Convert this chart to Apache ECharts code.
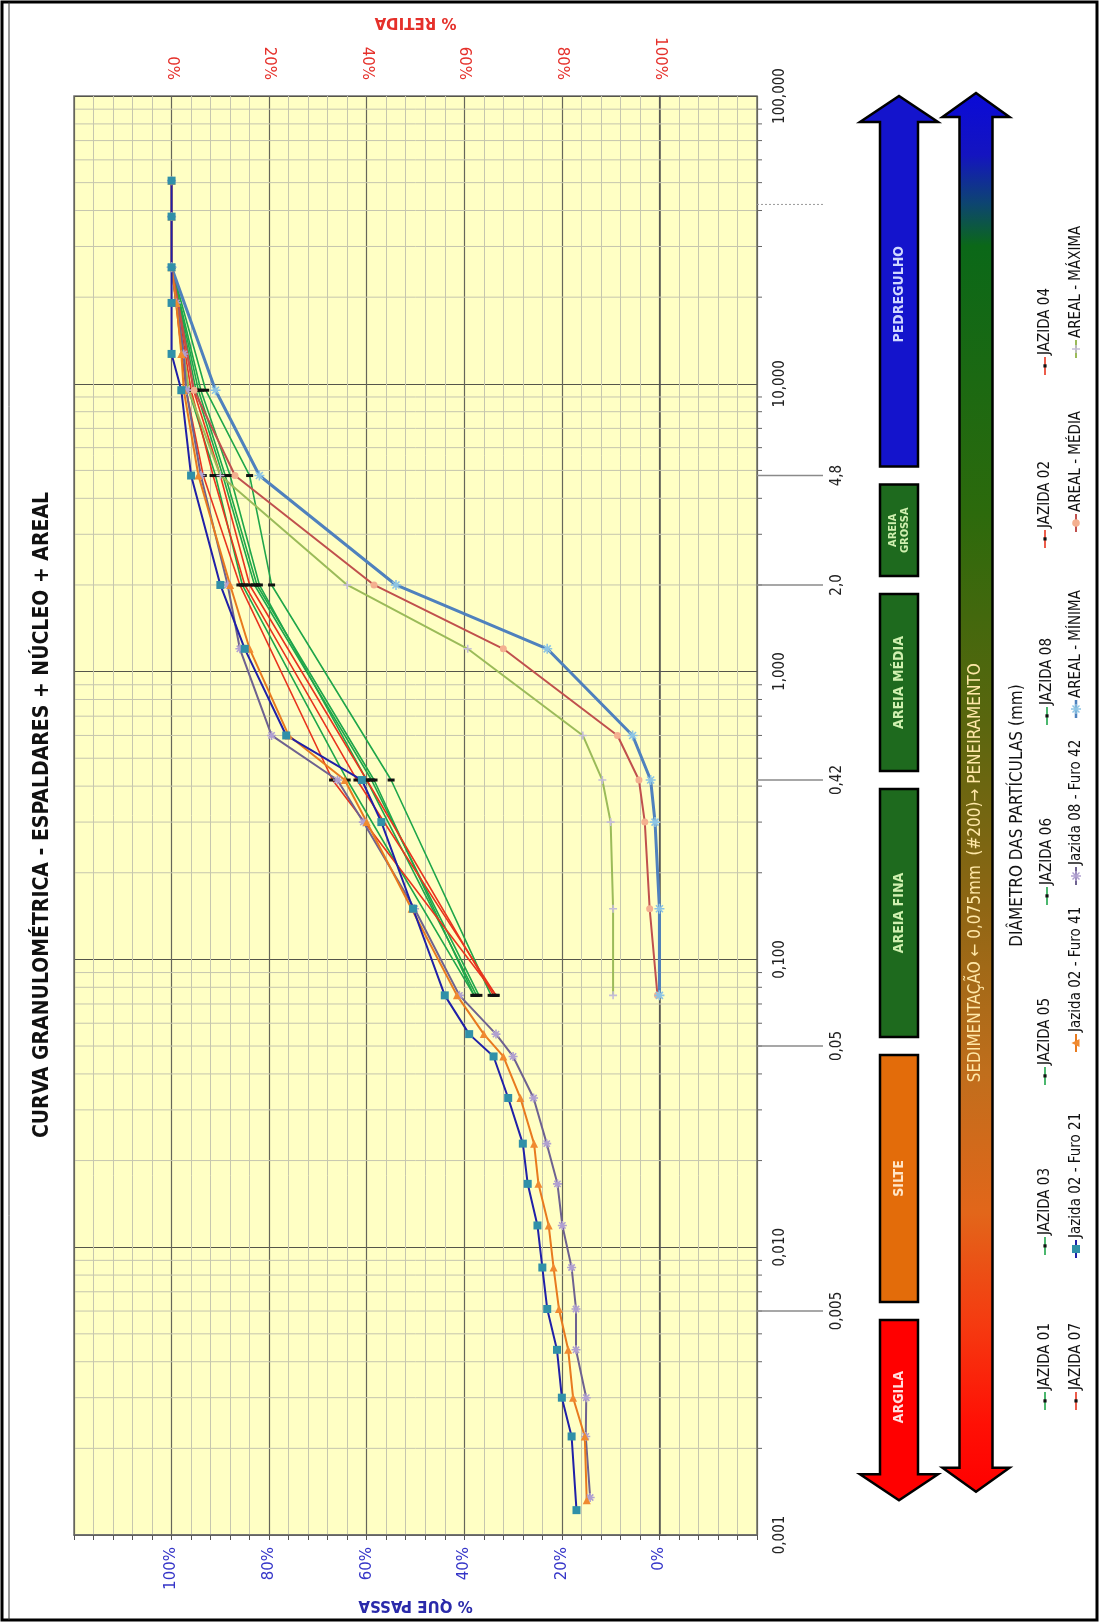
<!DOCTYPE html>
<html>
<head>
<meta charset="utf-8">
<script src="https://cdn.jsdelivr.net/npm/echarts@6/dist/echarts.min.js"></script>
<style>
html,body{margin:0;padding:0;background:#ffffff;}
#chart{width:1100px;height:1623px;}
</style>
</head>
<body>
<div id="chart"></div>
<script>
// ---------------- DATA ----------------
const passTickLabels = {0:'0%',20:'20%',40:'40%',60:'60%',80:'80%',100:'100%'};
const decadeLabels = ['0,001','0,010','0,100','1,000','10,000','100,000'];
const specialTickValues = [0.006, 0.05, 0.42, 2.0, 4.8];
const specialTickLabels = ['0,005', '0,05', '0,42', '2,0', '4,8'];
const dottedTickValues = [42];

const soilClasses = ['ARGILA', 'SILTE', 'AREIA FINA', 'AREIA MÉDIA', 'AREIA\nGROSSA', 'PEDREGULHO'];
const soilFrom = [0.00132, 0.006, 0.05, 0.42, 2.0, 4.8];
const soilTo = [0.006, 0.05, 0.42, 2.0, 4.8, 100];
const sieveArrowFrom = 0.00138;
const sieveArrowTo = 100;
const sieveArrowText = 'SEDIMENTAÇÃO ← 0,075mm  (#200)→ PENEIRAMENTO';
const sieveArrowTextAt = 0.2;

const jazidaDiam = [25.4, 9.5, 4.8, 2.0, 0.42, 0.075];
const jazida01 = [100, 96.5, 91.0, 85.5, 64.0, 38.0];
const jazida03 = [100, 95.0, 89.5, 83.0, 59.0, 37.0];
const jazida05 = [100, 94.5, 89.0, 82.5, 58.5, 38.0];
const jazida06 = [100, 93.0, 84.0, 79.5, 55.0, 34.5];
const jazida08 = [100, 94.0, 88.0, 82.0, 60.0, 37.5];
const jazida02 = [100, 96.0, 91.5, 85.0, 62.0, 33.5];
const jazida04 = [100, 95.5, 90.0, 84.0, 60.0, 34.0];
const jazida07 = [100, 97.0, 93.5, 86.0, 67.0, 33.5];

const furo21Diam = [50.8, 38.1, 25.4, 19.1, 12.7, 9.5, 4.8, 2.0, 1.2, 0.6, 0.42, 0.3, 0.15, 0.075, 0.055, 0.046, 0.033, 0.0229, 0.0166, 0.0119, 0.0085, 0.0061, 0.0044, 0.0030, 0.0022, 0.00122];
const furo21 = [100, 100, 100, 100, 100, 98.0, 96.0, 90.0, 85.0, 76.5, 61.0, 57.0, 50.5, 44.0, 39.0, 34.0, 31.0, 28.0, 27.0, 25.0, 24.0, 23.0, 21.0, 20.0, 18.0, 17.0];
const furo41Diam = [50.8, 38.1, 25.4, 19.1, 12.7, 9.5, 4.8, 2.0, 1.2, 0.6, 0.42, 0.3, 0.15, 0.075, 0.055, 0.046, 0.033, 0.0229, 0.0166, 0.0119, 0.0085, 0.0061, 0.0044, 0.0030, 0.0022, 0.00132];
const furo41 = [100, 100, 100, 99.0, 98.0, 97.5, 94.5, 88.0, 84.0, 76.0, 64.5, 60.0, 50.8, 41.5, 36.0, 32.0, 28.5, 25.7, 24.8, 22.7, 21.7, 20.6, 18.7, 17.7, 15.3, 14.9];
const furo42Diam = [50.8, 38.1, 25.4, 19.1, 12.7, 9.5, 4.8, 2.0, 1.2, 0.6, 0.42, 0.3, 0.15, 0.075, 0.055, 0.046, 0.033, 0.0229, 0.0166, 0.0119, 0.0085, 0.0061, 0.0044, 0.0030, 0.0022, 0.00135];
const furo42 = [100, 100, 100, 99.0, 97.5, 97.0, 94.0, 88.5, 86.0, 79.5, 66.0, 60.7, 50.2, 41.0, 33.5, 30.0, 25.8, 23.1, 20.9, 19.9, 18.0, 17.1, 17.1, 15.0, 15.1, 14.2];

const arealDiam = [25.4, 9.5, 4.8, 2.0, 1.2, 0.6, 0.42, 0.3, 0.15, 0.075];
const arealMin = [100, 91.0, 82.0, 54.0, 23.0, 5.5, 1.8, 0.9, 0.0, 0.0];
const arealMed = [100, 95.4, 87.0, 58.5, 32.0, 8.6, 4.2, 3.0, 2.0, 0.4];
const arealMax = [100, 96.5, 90.0, 64.0, 39.3, 15.7, 11.7, 10.0, 9.5, 9.5];

// ---------------- STYLES ----------------
const COND = '"DejaVu Sans Condensed", "Liberation Sans Narrow", "DejaVu Sans", sans-serif';
const GREEN = '#1FA64A', RED = '#E8341E';
const P_AST = 'path://M5,0L5,10M0,5L10,5M1.5,1.5L8.5,8.5M8.5,1.5L1.5,8.5';
const P_PLUS = 'path://M5,0L5,10M0,5L10,5';

const seriesDefs = [
  {name:'JAZIDA 01', diam:jazidaDiam, vals:jazida01, line:GREEN, w:1.6, sym:'rect', size:[7,3], mc:'#111', kind:'dash'},
  {name:'JAZIDA 03', diam:jazidaDiam, vals:jazida03, line:GREEN, w:1.6, sym:'rect', size:[7,3], mc:'#111', kind:'dash'},
  {name:'JAZIDA 05', diam:jazidaDiam, vals:jazida05, line:GREEN, w:1.6, sym:'rect', size:[7,3], mc:'#111', kind:'dash'},
  {name:'JAZIDA 06', diam:jazidaDiam, vals:jazida06, line:GREEN, w:1.6, sym:'rect', size:[7,3], mc:'#111', kind:'dash'},
  {name:'JAZIDA 08', diam:jazidaDiam, vals:jazida08, line:GREEN, w:1.6, sym:'rect', size:[7,3], mc:'#111', kind:'dash'},
  {name:'JAZIDA 02', diam:jazidaDiam, vals:jazida02, line:RED, w:1.6, sym:'rect', size:[7,3], mc:'#111', kind:'dash'},
  {name:'JAZIDA 04', diam:jazidaDiam, vals:jazida04, line:RED, w:1.6, sym:'rect', size:[7,3], mc:'#111', kind:'dash'},
  {name:'JAZIDA 07', diam:jazidaDiam, vals:jazida07, line:RED, w:1.6, sym:'rect', size:[7,3], mc:'#111', kind:'dash'},
  {name:'AREAL - MÁXIMA', diam:arealDiam, vals:arealMax, line:'#9BBB59', w:2, sym:P_PLUS, size:8, mc:'#C4BCD8', kind:'plus'},
  {name:'AREAL - MÉDIA', diam:arealDiam, vals:arealMed, line:'#C0504D', w:2, sym:'circle', size:7, mc:'#F4B090', kind:'circle'},
  {name:'AREAL - MÍNIMA', diam:arealDiam, vals:arealMin, line:'#4F81BD', w:3, sym:P_AST, size:10, mc:'#8CC4E4', kind:'ast'},
  {name:'Jazida 08 - Furo 42', diam:furo42Diam, vals:furo42, line:'#6E6290', w:2, sym:P_AST, size:9, mc:'#B0A0D0', kind:'ast'},
  {name:'Jazida 02 - Furo 41', diam:furo41Diam, vals:furo41, line:'#E87A1E', w:2, sym:'triangle', size:8, mc:'#F08A30', kind:'tri'},
  {name:'Jazida 02 - Furo 21', diam:furo21Diam, vals:furo21, line:'#2020A8', w:2, sym:'rect', size:8, mc:'#3090A8', kind:'square'}
];

const legendLayout = [
  ['JAZIDA 01',1045,1410],['JAZIDA 03',1045,1255],['JAZIDA 05',1045,1085],['JAZIDA 06',1047,905],
  ['JAZIDA 08',1047,725],['JAZIDA 02',1045,548],['JAZIDA 04',1045,375],
  ['JAZIDA 07',1076,1410],['Jazida 02 - Furo 21',1076,1258],['Jazida 02 - Furo 41',1076,1052],
  ['Jazida 08 - Furo 42',1076,885],['AREAL - MÍNIMA',1076,718],['AREAL - MÉDIA',1076,532],['AREAL - MÁXIMA',1076,358]
];

function passFmt(v){ return passTickLabels[v] !== undefined ? passTickLabels[v] : ''; }
function retFmt(v){ return passTickLabels[v] !== undefined ? passTickLabels[v] : ''; }

// minor log grid values (grid decoration only)
const minorLogVals = [];
for (let e = -3; e <= 1; e++) for (let m = 2; m <= 9; m++) minorLogVals.push(m * Math.pow(10, e));

function legendMarker(d){
  const c = d.mc;
  switch(d.kind){
    case 'dash': return {type:'rect', shape:{x:7.5,y:-1.6,width:3.2,height:3.2}, style:{fill:'#111'}};
    case 'square': return {type:'rect', shape:{x:5,y:-4,width:8,height:8}, style:{fill:c}};
    case 'circle': return {type:'circle', shape:{cx:9,cy:0,r:3.8}, style:{fill:c}};
    case 'tri': return {type:'polygon', shape:{points:[[9,-4.5],[13,3.5],[5,3.5]]}, style:{fill:c}};
    case 'plus': return {type:'group', children:[
      {type:'line', shape:{x1:9,y1:-4,x2:9,y2:4}, style:{stroke:c,lineWidth:1.5}},
      {type:'line', shape:{x1:5,y1:0,x2:13,y2:0}, style:{stroke:c,lineWidth:1.5}}]};
    case 'ast': return {type:'group', children:[
      {type:'line', shape:{x1:9,y1:-5,x2:9,y2:5}, style:{stroke:c,lineWidth:1.5}},
      {type:'line', shape:{x1:4,y1:0,x2:14,y2:0}, style:{stroke:c,lineWidth:1.5}},
      {type:'line', shape:{x1:5.5,y1:-3.5,x2:12.5,y2:3.5}, style:{stroke:c,lineWidth:1.5}},
      {type:'line', shape:{x1:12.5,y1:-3.5,x2:5.5,y2:3.5}, style:{stroke:c,lineWidth:1.5}}]};
  }
}

const graphics = [
  {type:'rect', shape:{x:2,y:2,width:1095,height:1618}, style:{fill:'none', stroke:'#000', lineWidth:3}, silent:true},
  {type:'line', shape:{x1:9,y1:2,x2:9,y2:1620}, style:{stroke:'#333', lineWidth:1}, silent:true},
  {type:'text', x:43, y:815, rotation:Math.PI/2, silent:true,
   style:{text:'CURVA GRANULOMÉTRICA - ESPALDARES + NÚCLEO + AREAL', fill:'#111', fontSize:21, fontWeight:'bold', fontFamily:COND, align:'center', verticalAlign:'middle'}}
];
legendLayout.forEach(([nm, x, y]) => {
  const d = seriesDefs.find(s => s.name === nm);
  graphics.push({type:'group', x:x, y:y, rotation:Math.PI/2, silent:true, children:[
    {type:'line', shape:{x1:0,y1:0,x2:18,y2:0}, style:{stroke:d.line, lineWidth:Math.min(d.w,2.5)}},
    legendMarker(d),
    {type:'text', x:20, y:0, style:{text:nm, fill:'#111', fontSize:15, fontFamily:COND, align:'left', verticalAlign:'middle'}}
  ]});
});

const soilFill = ['#FF0000', '#E36C0A', '#1E6A1E', '#1E6A1E', '#1E6A1E', '#1414CC'];
const soilText = ['#FFE0E0', '#FFE6C8', '#D0F0B0', '#D0F0B0', '#D0F0B0', '#D0D8FF'];

const lineSeries = seriesDefs.map(d => ({
  type:'line', name:d.name, xAxisIndex:0, yAxisIndex:0,
  data: d.diam.map((dm, i) => [d.vals[i], dm]),
  symbol:d.sym, symbolSize:d.size, showAllSymbol:true,
  lineStyle:{color:d.line, width:d.w},
  itemStyle:{color:d.mc, borderColor:d.mc, borderWidth:(d.kind==='ast'||d.kind==='plus')?1.6:0},
  z:3, silent:true, animation:false
}));

const option = {
  animation:false,
  backgroundColor:'#ffffff',
  grid:[{left:74, top:96, width:683, height:1439, show:true, backgroundColor:'#FFFFC4', borderColor:'#707070', borderWidth:1.5}],
  xAxis:[
    {type:'value', gridIndex:0, min:-20, max:120, interval:20, inverse:true, position:'bottom',
     axisLine:{show:true, onZero:false, lineStyle:{color:'#6A6A6A', width:1.5}},
     axisTick:{show:true, length:5, lineStyle:{color:'#555'}},
     minorTick:{show:true, splitNumber:5, length:5, lineStyle:{color:'#555'}},
     splitLine:{show:true, lineStyle:{color:'#66665A', width:1.2}},
     minorSplitLine:{show:true, lineStyle:{color:'#C6C6AE', width:1}},
     axisLabel:{rotate:90, margin:12, color:'#3535C8', fontSize:15, fontFamily:'DejaVu Sans', formatter:passFmt},
     name:'% QUE PASSA', nameLocation:'middle', nameGap:60, nameRotate:180,
     nameTextStyle:{color:'#2A2AAA', fontSize:15, fontWeight:'bold', fontFamily:'DejaVu Sans'}},
    {type:'value', gridIndex:0, min:-20, max:120, interval:20, position:'top',
     axisLine:{show:false}, axisTick:{show:false}, splitLine:{show:false},
     axisLabel:{rotate:90, margin:16, color:'#E5302A', fontSize:15, fontFamily:'DejaVu Sans', formatter:retFmt},
     name:'% RETIDA', nameLocation:'middle', nameGap:64, nameRotate:180,
     nameTextStyle:{color:'#E5302A', fontSize:15, fontWeight:'bold', fontFamily:'DejaVu Sans'}}
  ],
  yAxis:[
    {type:'log', logBase:10, gridIndex:0, min:0.001, max:100, splitNumber:5, position:'right',
     axisLine:{show:true, lineStyle:{color:'#555', width:1.5}},
     axisTick:{show:true, length:7, lineStyle:{color:'#555'}},
     splitLine:{show:true, lineStyle:{color:'#55554A', width:1.2}},
     axisLabel:{rotate:90, margin:16, color:'#222', fontSize:15, fontFamily:COND,
       formatter:v => { const k = Math.round(Math.log10(v)) + 3; return decadeLabels[k] || ''; }},
     name:'DIÂMETRO DAS PARTÍCULAS (mm)', nameLocation:'middle', nameGap:252, nameRotate:90,
     nameTextStyle:{color:'#111', fontSize:17, fontFamily:COND}}
  ],
  graphic:graphics,
  series:[
    {type:'custom', name:'grade', xAxisIndex:0, yAxisIndex:0, clip:false, z:1, silent:true,
     data:minorLogVals.map(v => [0, v]), encode:{x:0, y:1},
     renderItem:(params, api) => {
       const y = api.coord([0, api.value(1)])[1];
       const cs = params.coordSys, xl = cs.x, xr = cs.x + cs.width;
       return {type:'group', children:[
         {type:'line', shape:{x1:xl+1, y1:y, x2:xr-1, y2:y}, style:{stroke:'#C6C6AE', lineWidth:1}},
         {type:'line', shape:{x1:xr, y1:y, x2:xr+5, y2:y}, style:{stroke:'#666', lineWidth:1}}
       ]};
     }},
    {type:'custom', name:'marcos', xAxisIndex:0, yAxisIndex:0, clip:false, z:1, silent:true,
     data:specialTickValues.map((v,i) => [0, v, i]), encode:{x:0, y:1},
     renderItem:(params, api) => {
       const y = api.coord([0, api.value(1)])[1];
       const cs = params.coordSys, xr = cs.x + cs.width;
       return {type:'group', children:[
         {type:'line', shape:{x1:xr, y1:y, x2:xr+66, y2:y}, style:{stroke:'#8A8A8A', lineWidth:1.5}},
         {type:'text', x:xr+80, y:y, rotation:Math.PI/2,
          style:{text:specialTickLabels[api.value(2)], fill:'#222', fontSize:15, fontFamily:COND, align:'center', verticalAlign:'middle'}}
       ]};
     }},
    {type:'custom', name:'pontilhado', xAxisIndex:0, yAxisIndex:0, clip:false, z:1, silent:true,
     data:dottedTickValues.map(v => [0, v]), encode:{x:0, y:1},
     renderItem:(params, api) => {
       const y = api.coord([0, api.value(1)])[1];
       const cs = params.coordSys, xr = cs.x + cs.width;
       return {type:'line', shape:{x1:xr, y1:y, x2:xr+66, y2:y}, style:{stroke:'#9A9A9A', lineWidth:1, lineDash:[2,2]}};
     }},
    {type:'custom', name:'classes', xAxisIndex:0, yAxisIndex:0, clip:false, z:2, silent:true,
     data:soilClasses.map((n,i) => [0, soilFrom[i], soilTo[i], i]), encode:{x:0, y:1},
     renderItem:(params, api) => {
       const i = api.value(3);
       const cs = params.coordSys, xr = cs.x + cs.width;
       const cx = xr + 142, bw = 19, hw = 39, hl = 26, gap = 9;
       const yLo = api.coord([0, api.value(1)])[1];
       const yHi = api.coord([0, api.value(2)])[1];
       let pts, t0, t1;
       if (i === 0) {
         const top = yHi + gap, base = yLo - hl;
         pts = [[cx-bw,top],[cx+bw,top],[cx+bw,base],[cx+hw,base],[cx,yLo],[cx-hw,base],[cx-bw,base]];
         t0 = top; t1 = base;
       } else if (i === soilClasses.length - 1) {
         const bot = yLo - gap, base = yHi + hl;
         pts = [[cx-bw,bot],[cx-bw,base],[cx-hw,base],[cx,yHi],[cx+hw,base],[cx+bw,base],[cx+bw,bot]];
         t0 = base; t1 = bot;
       } else {
         const top = yHi + gap, bot = yLo - gap;
         pts = [[cx-bw,top],[cx+bw,top],[cx+bw,bot],[cx-bw,bot]];
         t0 = top; t1 = bot;
       }
       const small = soilClasses[i].indexOf('\n') >= 0;
       return {type:'group', children:[
         {type:'polygon', shape:{points:pts}, style:{fill:soilFill[i], stroke:'#000', lineWidth:2.5, lineJoin:'miter'}},
         {type:'text', x:cx, y:(t0+t1)/2, rotation:Math.PI/2,
          style:{text:soilClasses[i], fill:soilText[i], fontSize:small?11:14, lineHeight:small?12:16, fontWeight:'bold', fontFamily:COND, align:'center', verticalAlign:'middle'}}
       ]};
     }},
    {type:'custom', name:'peneiramento', xAxisIndex:0, yAxisIndex:0, clip:false, z:2, silent:true,
     data:[[0, sieveArrowFrom, sieveArrowTo, sieveArrowTextAt]], encode:{x:0, y:1},
     renderItem:(params, api) => {
       const cs = params.coordSys, xr = cs.x + cs.width;
       const cx = xr + 219, bw = 16.5, hw = 33.5, hl = 24;
       const yLo = api.coord([0, api.value(1)])[1] - 3;
       const yHi = api.coord([0, api.value(2)])[1] - 3;
       const yt = api.coord([0, api.value(3)])[1];
       const pts = [[cx,yHi],[cx+hw,yHi+hl],[cx+bw,yHi+hl],[cx+bw,yLo-hl],[cx+hw,yLo-hl],[cx,yLo],[cx-hw,yLo-hl],[cx-bw,yLo-hl],[cx-bw,yHi+hl],[cx-hw,yHi+hl]];
       const grad = new echarts.graphic.LinearGradient(0,0,0,1,[
         {offset:0,color:'#0A0AD8'},{offset:0.045,color:'#1414C0'},{offset:0.08,color:'#0D4570'},
         {offset:0.11,color:'#0B6818'},{offset:0.3,color:'#2C6A0C'},{offset:0.45,color:'#5A660E'},
         {offset:0.58,color:'#8E6614'},{offset:0.7,color:'#C06E1C'},{offset:0.8,color:'#E2661A'},
         {offset:0.88,color:'#F53A10'},{offset:0.95,color:'#FF1005'},{offset:1,color:'#FF0000'}]);
       return {type:'group', children:[
         {type:'polygon', shape:{points:pts}, style:{fill:grad, stroke:'#000', lineWidth:2.5, lineJoin:'miter'}},
         {type:'text', x:cx, y:yt, rotation:Math.PI/2,
          style:{text:sieveArrowText, fill:'#FFE8A8', fontSize:17, fontFamily:COND, align:'center', verticalAlign:'middle'}}
       ]};
     }}
  ].concat(lineSeries)
};

const chart = echarts.init(document.getElementById('chart'), null, {renderer:'canvas', width:1100, height:1623});
chart.setOption(option);
</script>
</body>
</html>
